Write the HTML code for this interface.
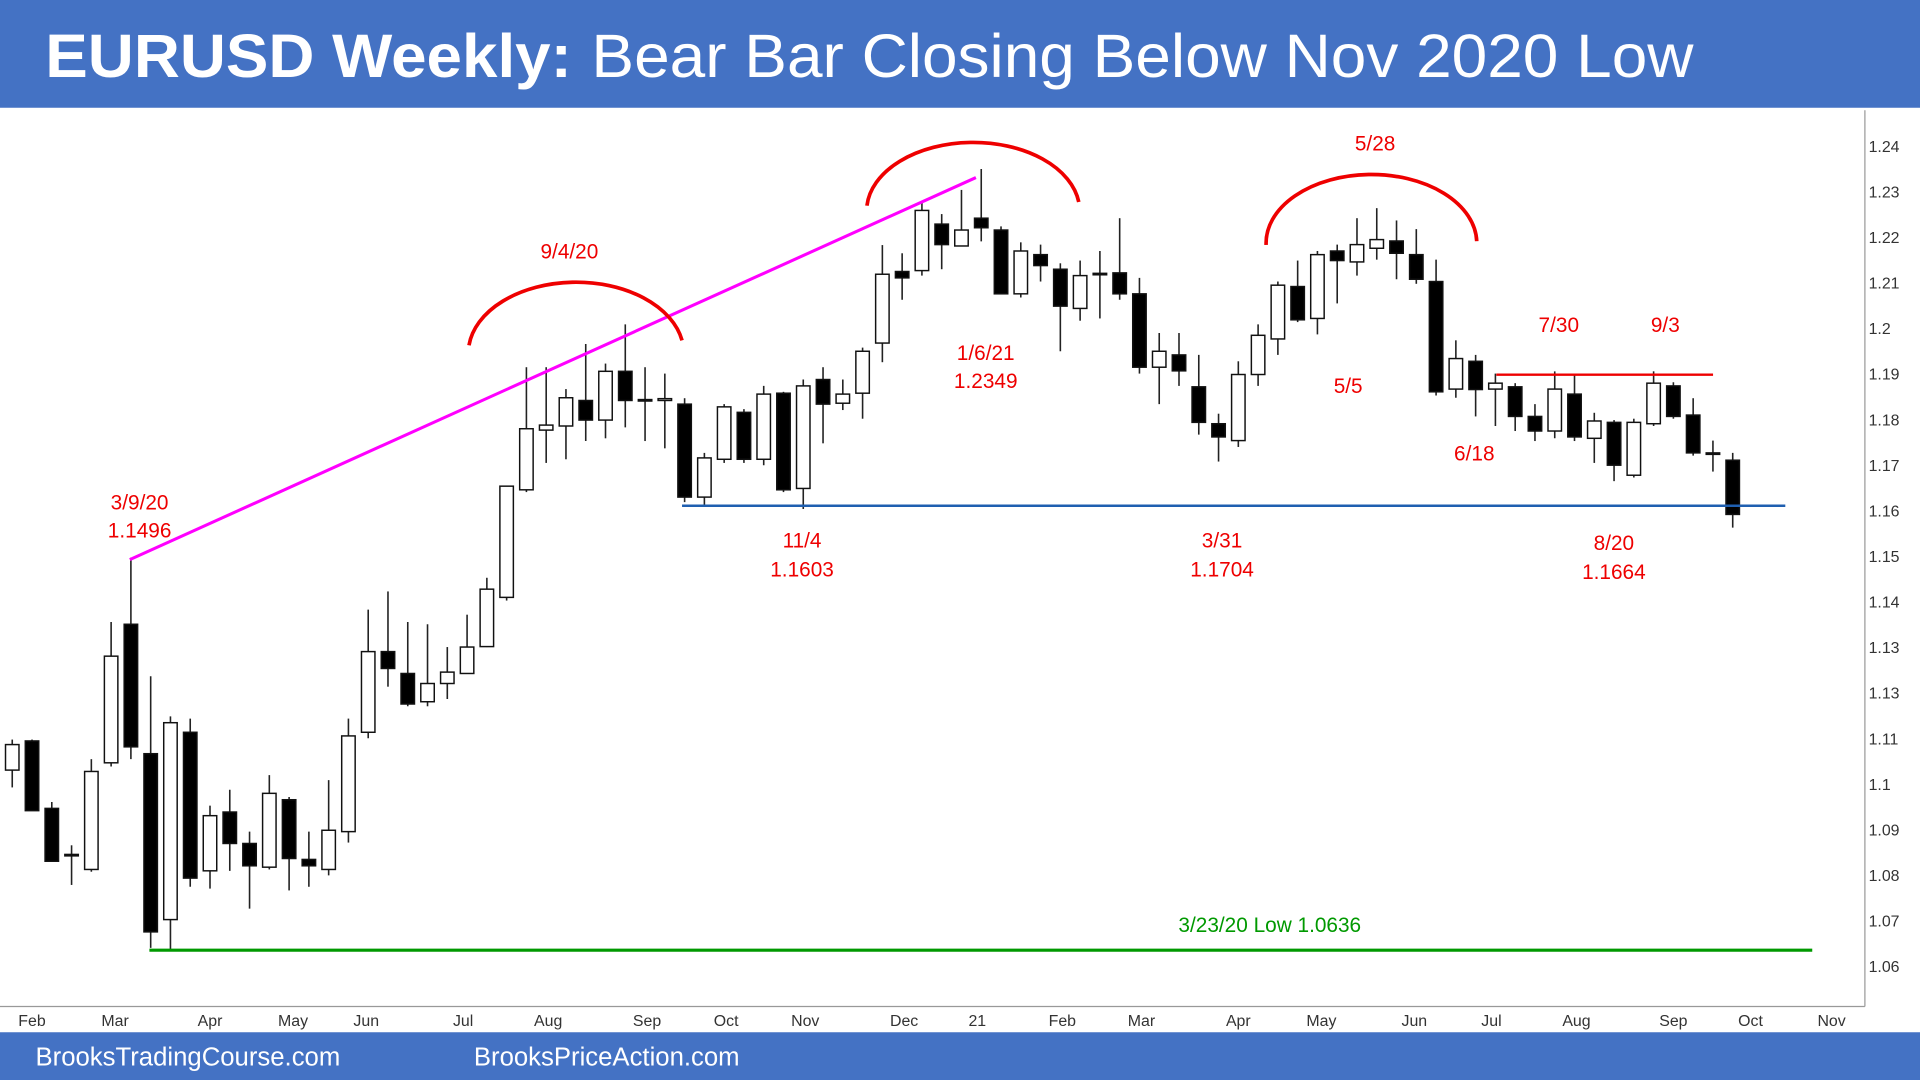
<!DOCTYPE html>
<html><head><meta charset="utf-8"><style>
html,body{margin:0;padding:0;background:#fff;}
svg{display:block;font-family:"Liberation Sans",Arial,sans-serif;}
</style></head><body>
<svg id="chart" width="1920" height="1080" viewBox="0 0 1568 882" xmlns="http://www.w3.org/2000/svg">
<rect x="0" y="0" width="1568" height="88" fill="#4472c4"/>
<text x="37" y="63" fill="#fff" font-size="50" font-weight="bold" textLength="430" lengthAdjust="spacingAndGlyphs">EURUSD Weekly:</text>
<text x="483" y="63" fill="#fff" font-size="50" textLength="900" lengthAdjust="spacingAndGlyphs">Bear Bar Closing Below Nov 2020 Low</text>
<line x1="1523" y1="90" x2="1523" y2="822" stroke="#999" stroke-width="1"/>
<line x1="0" y1="822" x2="1523" y2="822" stroke="#999" stroke-width="1"/>
<g id="yticks"></g>
<g id="xticks"></g>
<g id="candles"></g>
<line x1="106" y1="457" x2="797" y2="145" stroke="#ff00ff" stroke-width="2.5"/>
<line x1="557" y1="413" x2="1458" y2="413" stroke="#1f5fb0" stroke-width="2"/>
<line x1="1222" y1="306" x2="1399" y2="306" stroke="#e00" stroke-width="2"/>
<line x1="122" y1="776" x2="1480" y2="776" stroke="#090" stroke-width="2.5"/>
<path d="M383,282 A88,58 0 0 1 557,278" fill="none" stroke="#e00" stroke-width="3"/>
<path d="M708,168 A87,56 0 0 1 881,165" fill="none" stroke="#e00" stroke-width="3"/>
<path d="M1034,200 A86,56 0 0 1 1206,197" fill="none" stroke="#e00" stroke-width="3"/>
<g fill="#e00" font-size="17" text-anchor="middle">
<text x="465" y="211">9/4/20</text>
<text x="114" y="416">3/9/20</text>
<text x="114" y="439">1.1496</text>
<text x="805" y="294">1/6/21</text>
<text x="805" y="317">1.2349</text>
<text x="655" y="447">11/4</text>
<text x="655" y="471">1.1603</text>
<text x="998" y="447">3/31</text>
<text x="998" y="471">1.1704</text>
<text x="1123" y="123">5/28</text>
<text x="1101" y="321">5/5</text>
<text x="1273" y="271">7/30</text>
<text x="1360" y="271">9/3</text>
<text x="1204" y="376">6/18</text>
<text x="1318" y="449">8/20</text>
<text x="1318" y="473">1.1664</text>
</g>
<text x="1037" y="761" fill="#090" font-size="17" text-anchor="middle">3/23/20 Low 1.0636</text>
<rect x="0" y="843" width="1568" height="39" fill="#4472c4"/>
<text x="29" y="870" fill="#fff" font-size="21">BrooksTradingCourse.com</text>
<text x="387" y="870" fill="#fff" font-size="21">BrooksPriceAction.com</text>
</svg>
<script>
const opens=[1.1030,1.1094,1.0946,1.0845,1.0812,1.1046,1.1350,1.1066,1.0702,1.1113,1.0809,1.0938,1.0869,1.0817,1.0965,1.0834,1.0812,1.0895,1.1113,1.1290,1.1242,1.1180,1.1220,1.1242,1.1301,1.1409,1.1645,1.1776,1.1785,1.1841,1.1798,1.1905,1.1843,1.1841,1.1833,1.1629,1.1712,1.1815,1.1712,1.1857,1.1648,1.1887,1.1835,1.1857,1.1967,1.2124,1.2126,1.2228,1.2180,1.2241,1.2215,1.2075,1.2161,1.2129,1.2043,1.2118,1.2121,1.2075,1.1914,1.1941,1.1871,1.1790,1.1753,1.1898,1.1976,1.2091,1.2021,1.2169,1.2145,1.2175,1.2191,1.2161,1.2102,1.1866,1.1927,1.1866,1.1871,1.1806,1.1774,1.1855,1.1758,1.1793,1.1677,1.1790,1.1873,1.1809,1.1726,1.1710];
const highs=[1.1097,1.1097,1.0960,1.0865,1.1054,1.1355,1.1496,1.1236,1.1148,1.1143,1.0952,1.0987,1.0895,1.1019,1.0971,1.0895,1.1008,1.1143,1.1382,1.1422,1.1355,1.1350,1.1300,1.1371,1.1452,1.1653,1.1914,1.1914,1.1866,1.1965,1.1922,1.2008,1.1914,1.1900,1.1846,1.1726,1.1833,1.1822,1.1873,1.1860,1.1887,1.1914,1.1887,1.1957,1.2182,1.2164,1.2276,1.2250,1.2303,1.2349,1.2223,1.2188,1.2183,1.2142,1.2148,1.2169,1.2241,1.2110,1.1989,1.1989,1.1941,1.1812,1.1927,1.2008,1.2102,1.2148,1.2169,1.2183,1.2241,1.2263,1.2236,1.2217,1.2150,1.1973,1.1941,1.1900,1.1879,1.1833,1.1905,1.1900,1.1814,1.1798,1.1801,1.1905,1.1881,1.1846,1.1753,1.1726];
const lows=[1.0992,1.0941,1.0830,1.0778,1.0807,1.1038,1.1054,1.0640,1.0636,1.0774,1.0770,1.0809,1.0726,1.0812,1.0766,1.0774,1.0799,1.0871,1.1100,1.1213,1.1170,1.1170,1.1186,1.1242,1.1300,1.1402,1.1640,1.1704,1.1712,1.1752,1.1758,1.1782,1.1752,1.1736,1.1618,1.1612,1.1704,1.1704,1.1699,1.1640,1.1603,1.1747,1.1820,1.1801,1.1925,1.2062,1.2115,1.2129,1.2183,1.2190,1.2075,1.2067,1.2102,1.1949,1.2016,1.2021,1.2062,1.1900,1.1833,1.1873,1.1766,1.1707,1.1739,1.1873,1.1941,1.2013,1.1986,1.2054,1.2115,1.2150,1.2107,1.2097,1.1852,1.1847,1.1806,1.1785,1.1774,1.1752,1.1758,1.1752,1.1704,1.1664,1.1672,1.1785,1.1801,1.1720,1.1685,1.1562];
const closes=[1.1086,1.0941,1.0830,1.0843,1.1027,1.1280,1.1081,1.0675,1.1134,1.0793,1.0930,1.0869,1.0820,1.0979,1.0836,1.0820,1.0898,1.1105,1.1290,1.1253,1.1175,1.1220,1.1245,1.1300,1.1427,1.1653,1.1779,1.1787,1.1847,1.1798,1.1905,1.1841,1.1841,1.1845,1.1629,1.1715,1.1827,1.1712,1.1855,1.1645,1.1873,1.1833,1.1855,1.1949,1.2118,1.2110,1.2258,1.2183,1.2215,1.2220,1.2075,1.2169,1.2137,1.2048,1.2115,1.2120,1.2075,1.1914,1.1949,1.1906,1.1793,1.1761,1.1898,1.1984,1.2094,1.2018,1.2161,1.2148,1.2183,1.2194,1.2164,1.2107,1.1860,1.1933,1.1865,1.1879,1.1806,1.1774,1.1866,1.1761,1.1796,1.1699,1.1793,1.1879,1.1806,1.1726,1.1723,1.1591];
const yTickValues=[1.24,1.23,1.22,1.21,1.20,1.19,1.18,1.17,1.16,1.15,1.14,1.13,1.12,1.11,1.10,1.09,1.08,1.07,1.06];
const yTickLabels=["1.24","1.23","1.22","1.21","1.2","1.19","1.18","1.17","1.16","1.15","1.14","1.13","1.13","1.11","1.1","1.09","1.08","1.07","1.06"];
const monthLabels=["Feb","Mar","Apr","May","Jun","Jul","Aug","Sep","Oct","Nov","Dec","21","Feb","Mar","Apr","May","Jun","Jul","Aug","Sep","Oct","Nov"];
const monthWeekIdx=[1,5.2,10,14.2,17.9,22.8,27.1,32.1,36.1,40.1,45.1,48.8,53.1,57.1,62,66.2,70.9,74.8,79.1,84,87.9,92];

const NS="http://www.w3.org/2000/svg";
function yScale(p){return 119+(1.24-p)/0.01*37.22;}
function xScale(i){return 10+i*16.15;}
const gC=document.getElementById('candles');
for(let i=0;i<opens.length;i++){
  const x=xScale(i),o=opens[i],c=closes[i];
  const w=document.createElementNS(NS,'line');
  
  
  w.setAttribute('x1',x);w.setAttribute('x2',x);
  w.setAttribute('y1',yScale(highs[i]));w.setAttribute('y2',yScale(lows[i]));
  w.setAttribute('stroke','#222');w.setAttribute('stroke-width','1.3');
  gC.appendChild(w);
  const top=yScale(Math.max(o,c)),bot=yScale(Math.min(o,c));
  const b=document.createElementNS(NS,'rect');
  
  
  b.setAttribute('x',x-5.5);b.setAttribute('width',11);
  b.setAttribute('y',top);b.setAttribute('height',Math.max(bot-top,1.2));
  b.setAttribute('fill',c>=o?'#fff':'#000');
  b.setAttribute('stroke','#111');b.setAttribute('stroke-width','1.2');
  gC.appendChild(b);
}
const gY=document.getElementById('yticks');
yTickValues.forEach((v,i)=>{
  const t=document.createElementNS(NS,'text');
  
  
  t.setAttribute('x',1526);t.setAttribute('y',yScale(v)+5);
  t.setAttribute('font-size','13');t.setAttribute('fill','#333');
  t.textContent=yTickLabels[i];gY.appendChild(t);
});
const gX=document.getElementById('xticks');
monthLabels.forEach((m,i)=>{
  const t=document.createElementNS(NS,'text');
  
  
  t.setAttribute('x',xScale(monthWeekIdx[i]));t.setAttribute('y',838);
  t.setAttribute('font-size','13');t.setAttribute('fill','#333');
  t.setAttribute('text-anchor','middle');
  t.textContent=m;gX.appendChild(t);
});
</script>
</body></html>
